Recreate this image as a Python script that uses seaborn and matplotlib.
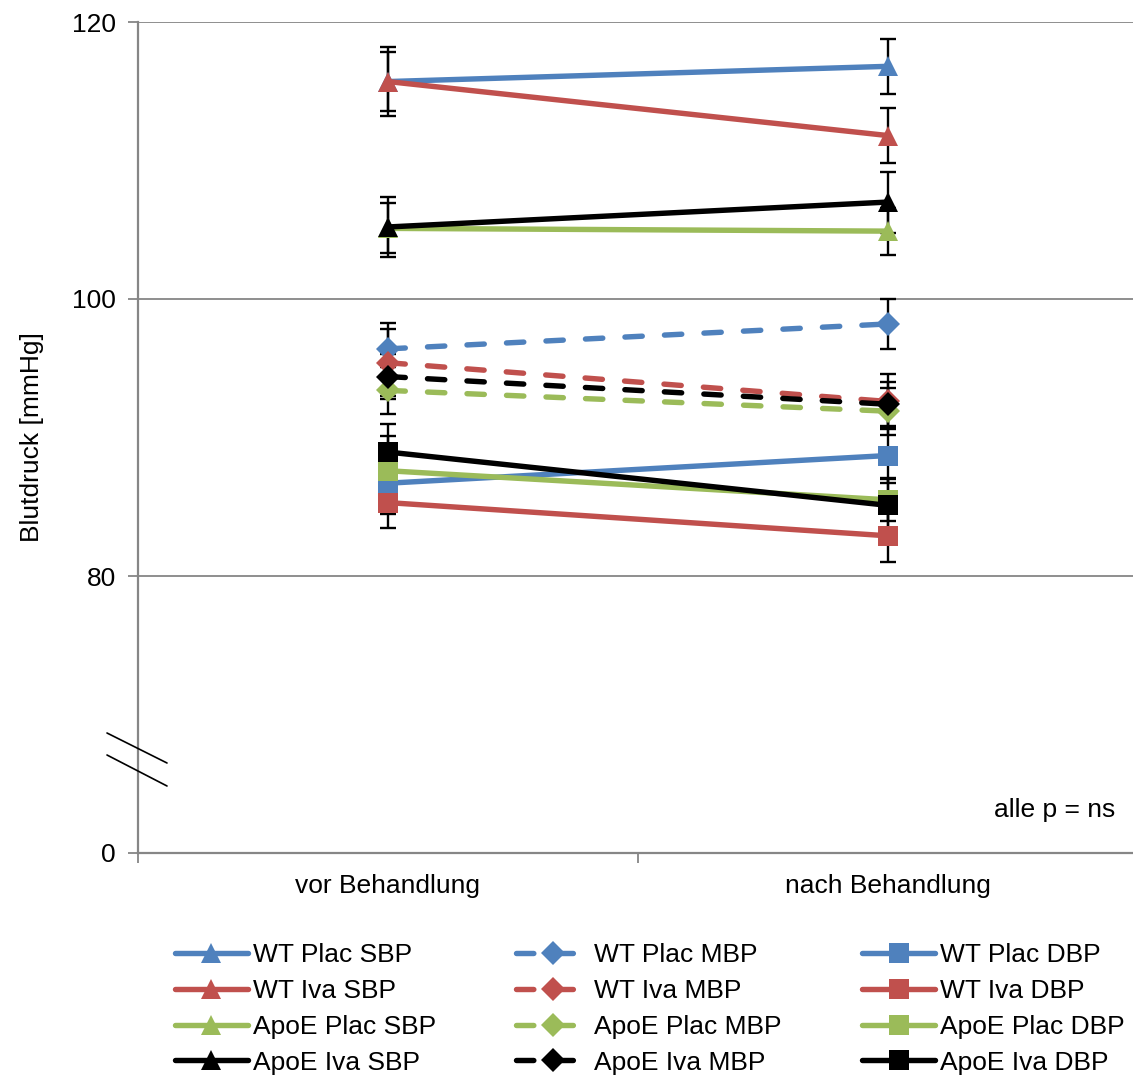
import matplotlib
matplotlib.use('Agg')
import matplotlib.pyplot as plt
from matplotlib.lines import Line2D
from matplotlib.ticker import FixedLocator
import numpy as np
import pandas as pd
import seaborn as sns

# x positions: 0 = vor, 1 = nach
categories = ['vor Behandlung', 'nach Behandlung']
groups = ['WT Plac', 'WT Iva', 'ApoE Plac', 'ApoE Iva']
group_colors = ['#4F81BD', '#C0504D', '#9BBB59', '#000000']

sbp = {
    'WT Plac': [115.7, 116.8],
    'WT Iva': [115.7, 111.8],
    'ApoE Plac': [105.1, 104.9],
    'ApoE Iva': [105.2, 107.0],
}
sbp_err = {
    'WT Plac': [2.5, 2.0],
    'WT Iva': [2.1, 2.0],
    'ApoE Plac': [1.8, 1.7],
    'ApoE Iva': [2.2, 2.2],
}
mbp = {
    'WT Plac': [96.4, 98.2],
    'WT Iva': [95.4, 92.6],
    'ApoE Plac': [93.4, 91.9],
    'ApoE Iva': [94.4, 92.4],
}
mbp_err = {
    'WT Plac': [1.9, 1.8],
    'WT Iva': [2.4, 2.0],
    'ApoE Plac': [1.7, 1.7],
    'ApoE Iva': [1.6, 1.6],
}
dbp = {
    'WT Plac': [86.7, 88.7],
    'WT Iva': [85.3, 82.9],
    'ApoE Plac': [87.6, 85.5],
    'ApoE Iva': [88.95, 85.1],
}
dbp_err = {
    'WT Plac': [2.2, 2.0],
    'WT Iva': [1.8, 1.9],
    'ApoE Plac': [2.5, 1.5],
    'ApoE Iva': [2.0, 2.0],
}

y_ticks = [60, 80, 100, 120]
y_ticklabels = ['0', '80', '100', '120']

measures = [
    ('SBP', sbp, sbp_err, '^', 15, '-'),
    ('MBP', mbp, mbp_err, 'D', 12, '--'),
    ('DBP', dbp, dbp_err, 's', 14, '-'),
]

GRAY = '#868686'
FS = 19

sns.set_style('white')
plt.rcParams['font.family'] = ['Liberation Sans', 'DejaVu Sans']
plt.rcParams['text.color'] = 'black'
plt.rcParams['axes.labelcolor'] = 'black'

fig = plt.figure(figsize=(11.33, 10.75), dpi=100)
ax = fig.add_axes([138 / 1133, 1 - 853 / 1075, 1000 / 1133, (853 - 22) / 1075])

x = np.array([0, 1])
handles = []
labels = []
for name, values, errs, marker, ms, ls in measures:
    for grp, color in zip(groups, group_colors):
        df = pd.DataFrame({'x': x, 'y': values[grp]})
        ax.errorbar(df['x'], df['y'], yerr=errs[grp], fmt='none', ecolor='black',
                    elinewidth=1.7, capsize=6, capthick=1.7, zorder=1.5)
        sns.lineplot(x='x', y='y', data=df, ax=ax, color=color, marker=marker,
                     markersize=ms, markeredgecolor=color, markeredgewidth=0,
                     linewidth=3.9, zorder=3)
        line = ax.lines[-1]
        line.set_solid_capstyle('round')
        if ls == '--':
            line.set_dashes((3.2, 4.1))
            line.set_dash_capstyle('round')
        handles.append(line)
        labels.append(f'{grp} {name}')

leg = ax.get_legend()
if leg is not None:
    leg.remove()

ax.set_xlim(-0.5, 1.5)
ax.set_ylim(60, 120)

ax.set_xticks([0, 1])
ax.set_xticklabels(categories, fontsize=FS)
ax.xaxis.set_minor_locator(FixedLocator([-0.5, 0.5, 1.5]))
ax.tick_params(axis='x', which='major', length=0, pad=15, labelcolor='black')
ax.tick_params(axis='x', which='minor', length=7, width=1.3, color=GRAY, direction='out', bottom=True)

ax.set_yticks(y_ticks)
ax.set_yticklabels(y_ticklabels, fontsize=FS)
ax.tick_params(axis='y', length=7, width=1.3, color=GRAY, direction='out', left=True, pad=9,
               labelcolor='black')

for yv in y_ticks[1:]:
    ax.axhline(yv, color=GRAY, linewidth=1.3, zorder=0.5)

for side in ['top', 'right']:
    ax.spines[side].set_visible(False)
for side in ['left', 'bottom']:
    ax.spines[side].set_color(GRAY)
    ax.spines[side].set_linewidth(1.6)

ax.set_xlabel('')
ax.set_ylabel('Blutdruck [mmHg]', fontsize=FS, labelpad=20)

ax.text(1.454, 63.1, 'alle p = ns', fontsize=FS, ha='right', va='center')

# axis break marks
for y0, y1 in [(733, 763), (755, 786)]:
    fig.add_artist(Line2D([107 / 1133, 167 / 1133], [1 - y0 / 1075, 1 - y1 / 1075],
                          transform=fig.transFigure, color='black', linewidth=1.2))

fig.legend(handles, labels, ncol=3, loc='upper left',
           bbox_to_anchor=(175 / 1133, 1 - 943 / 1075), frameon=False,
           fontsize=FS, handlelength=2.75, handletextpad=0.2, columnspacing=3.05,
           labelspacing=0.45, borderpad=0, borderaxespad=0)

fig.savefig('out.png', dpi=100)
